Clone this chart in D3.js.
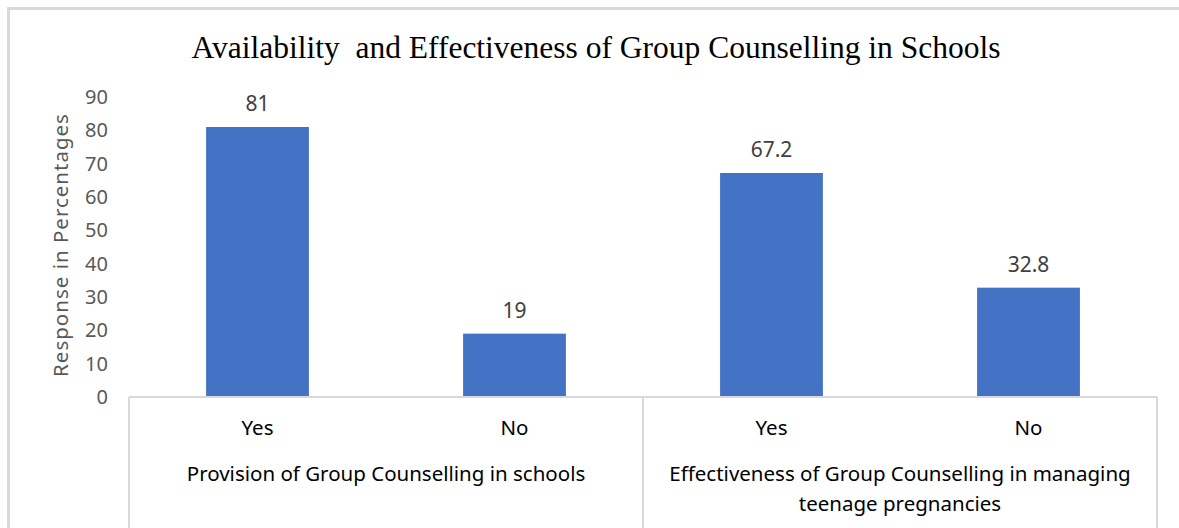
<!DOCTYPE html>
<html lang="en">
<head>
<meta charset="UTF-8" />
<script src="https://cdnjs.cloudflare.com/ajax/libs/d3/7.8.5/d3.min.js"></script>
<title>Group Counselling</title>
<style>
body { margin: 0; background: #fff; }
svg text { font-family: "Noto Sans", "Open Sans", sans-serif; }
</style>
</head>
<body>
<div id="chart"></div>
<script>

const groups = [
  ['Provision of Group Counselling in schools'],
  ['Effectiveness of Group Counselling in managing', 'teenage pregnancies']
];
const categories = ['Yes', 'No', 'Yes', 'No'];
const values = [81, 19, 67.2, 32.8];
const yTicks = [0, 10, 20, 30, 40, 50, 60, 70, 80, 90];

const W = 1179, H = 528;
const margin = { left: 129, right: 22, top: 97, bottom: 131 };
const gridColor = '#d9d9d9';

const svg = d3.select('#chart').append('svg')
  .attr('width', W)
  .attr('height', H);

// chart frame (runs off the right and bottom)
svg.append('rect')
  .attr('x', 8.5).attr('y', 8.5)
  .attr('width', W + 20).attr('height', H + 20)
  .style('fill', '#fff')
  .style('stroke', gridColor)
  .style('stroke-width', 3);

svg.append('text')
  .attr('x', 596)
  .attr('y', 58)
  .attr('text-anchor', 'middle')
  .style('white-space', 'pre')
  .style('font-family', '"Liberation Serif", "DejaVu Serif", serif')
  .style('font-size', '31.5px')
  .style('fill', '#000')
  .text('Availability  and Effectiveness of Group Counselling in Schools');

const x = d3.scaleBand()
  .domain(d3.range(categories.length))
  .range([margin.left, W - margin.right])
  .paddingInner(0.6)
  .paddingOuter(0.3);

const y = d3.scaleLinear()
  .domain([0, 90])
  .range([H - margin.bottom, margin.top]);

// y tick labels (no axis line)
const yAxis = d3.axisLeft(y).tickValues(yTicks).tickSize(0).tickPadding(0);
const yg = svg.append('g')
  .attr('transform', `translate(108,0)`)
  .call(yAxis);
yg.select('.domain').remove();
yg.selectAll('text')
  .style('font-size', '20px')
  .style('fill', '#595959');

svg.append('text')
  .attr('transform', `translate(68,${(y(0) + y(90)) / 2 - 2}) rotate(-90)`)
  .attr('text-anchor', 'middle')
  .style('font-size', '20.5px')
  .style('letter-spacing', '1px')
  .style('fill', '#595959')
  .text('Response in Percentages');

// bars
svg.append('g').selectAll('rect')
  .data(values)
  .join('rect')
  .attr('x', (d, i) => x(i))
  .attr('y', d => y(d))
  .attr('width', x.bandwidth())
  .attr('height', d => y(0) - y(d))
  .style('fill', '#4472c4');

svg.append('g').selectAll('text')
  .data(values)
  .join('text')
  .attr('x', (d, i) => x(i) + x.bandwidth() / 2)
  .attr('y', d => y(d) - 16)
  .attr('text-anchor', 'middle')
  .style('font-size', '21px')
  .style('fill', '#404040')
  .text(d => d);

// category axis with group dividers
const x0 = margin.left, x1 = W - margin.right, mid = (x0 + x1) / 2;
const axisY = y(0);
const axis = svg.append('g')
  .style('stroke', gridColor)
  .style('stroke-width', 2);
axis.append('line').attr('x1', x0).attr('x2', x1).attr('y1', axisY).attr('y2', axisY);
[x0, mid, x1].forEach(px => {
  axis.append('line').attr('x1', px).attr('x2', px).attr('y1', axisY).attr('y2', H);
});

svg.append('g').selectAll('text')
  .data(categories)
  .join('text')
  .attr('x', (d, i) => x(i) + x.bandwidth() / 2)
  .attr('y', axisY + 38)
  .attr('text-anchor', 'middle')
  .style('font-size', '20.5px')
  .style('fill', '#000')
  .text(d => d);

groups.forEach((lines, gi) => {
  const cx = gi === 0 ? (x0 + mid) / 2 : (mid + x1) / 2;
  const t = svg.append('text')
    .attr('text-anchor', 'middle')
    .style('font-size', '20.5px')
    .style('fill', '#000');
  lines.forEach((ln, li) => {
    t.append('tspan')
      .attr('x', cx)
      .attr('y', axisY + 84 + li * 30)
      .text(ln);
  });
});

</script>
</body>
</html>
